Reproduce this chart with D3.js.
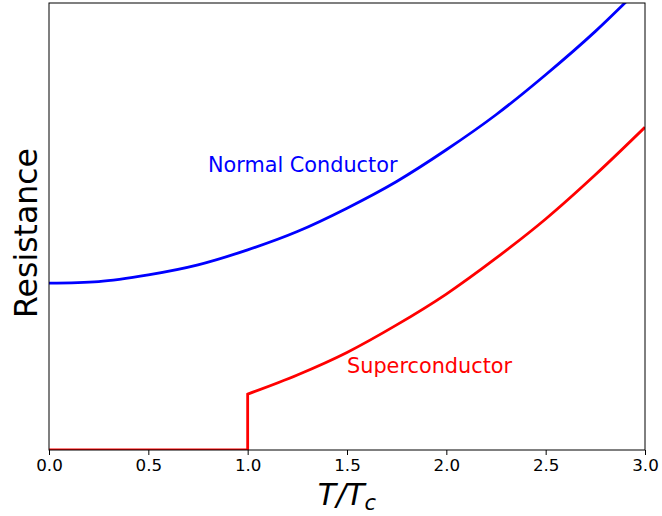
<!DOCTYPE html>
<html>
<head>
<meta charset="utf-8">
<script src="https://cdn.jsdelivr.net/npm/d3@7"></script>
<style>
  body { margin: 0; background: #fff; }
  text { font-family: "DejaVu Sans", sans-serif; }
</style>
</head>
<body>
<svg id="chart" width="662" height="516"></svg>
<script>
// values
var temps = [0, 0.25, 0.5, 0.75, 1, 1.25, 1.5, 1.75, 2, 2.25, 2.5, 2.75, 3];
var normal = [1.00, 1.01, 1.05, 1.11, 1.20, 1.31, 1.45, 1.61, 1.80, 2.01, 2.25, 2.51, 2.80];

var superBelowT = [0, 0.25, 0.5, 0.75, 1];
var superBelow = [0, 0, 0, 0, 0];
var superAboveT = [1, 1.25, 1.5, 1.75, 2, 2.25, 2.5, 2.75, 3];
var superAbove = [0.335, 0.45, 0.585, 0.75, 0.935, 1.15, 1.385, 1.65, 1.935];

var xTicks = [0, 0.5, 1, 1.5, 2, 2.5, 3];

var svg = d3.select("#chart"),
    margin = {left: 49, top: 3, right: 17, bottom: 66},
    width = 662 - margin.left - margin.right,
    height = 516 - margin.top - margin.bottom;

var x = d3.scaleLinear()
  .domain([0, 3])
  .range([margin.left, margin.left + width]);

var y = d3.scaleLinear()
  .domain([0, 2.68])
  .range([margin.top + height, margin.top]);

svg.append("clipPath")
  .attr("id", "clip")
  .append("rect")
  .attr("x", margin.left)
  .attr("y", margin.top)
  .attr("width", width)
  .attr("height", height);

var line = d3.line()
  .x(function(d){ return x(d[0]); })
  .y(function(d){ return y(d[1]); })
  .curve(d3.curveMonotoneX);

var plot = svg.append("g").attr("clip-path", "url(#clip)");

plot.append("path")
  .attr("d", line(d3.zip(temps, normal)))
  .attr("fill", "none")
  .attr("stroke", "#0000ff")
  .attr("stroke-width", 2.8);

// superconductor: flat at zero, vertical jump at Tc, then rising
var superPts = d3.zip(superBelowT, superBelow);
plot.append("path")
  .attr("d", line(superPts) + "L" + line(d3.zip(superAboveT, superAbove)).slice(1))
  .attr("fill", "none")
  .attr("stroke", "#ff0000")
  .attr("stroke-width", 2.8);

// frame
svg.append("rect")
  .attr("x", margin.left)
  .attr("y", margin.top)
  .attr("width", width)
  .attr("height", height)
  .attr("fill", "none")
  .attr("stroke", "#000")
  .attr("stroke-width", 1);

var xAxis = svg.append("g")
  .attr("transform", "translate(0," + (margin.top + height) + ")")
  .call(d3.axisBottom(x).tickValues(xTicks).tickFormat(d3.format(".1f")).tickSize(5).tickPadding(4));

xAxis.select(".domain").remove();
xAxis.selectAll("text")
  .attr("font-size", 16.7)
  .attr("fill", "#000")
  .style("font-family", "DejaVu Sans");
xAxis.selectAll("line").attr("stroke", "#000");

// labels
svg.append("text")
  .attr("x", 0)
  .attr("y", 0)
  .attr("text-anchor", "middle")
  .attr("font-size", 31.5)
  .attr("transform", "translate(37,233) rotate(-90)")
  .text("Resistance");

var xl = svg.append("text")
  .attr("x", (margin.left + margin.left + width) / 2)
  .attr("y", 505)
  .attr("text-anchor", "middle")
  .attr("font-size", 30)
  .attr("font-style", "italic");
xl.append("tspan").text("T/T");
xl.append("tspan").attr("font-size", 21).attr("dy", 5).text("c");

svg.append("text")
  .attr("x", x(0.8))
  .attr("y", 171.5)
  .attr("font-size", 20.8)
  .attr("fill", "#0000ff")
  .text("Normal Conductor");

svg.append("text")
  .attr("x", x(1.5))
  .attr("y", 373)
  .attr("font-size", 20.8)
  .attr("fill", "#ff0000")
  .text("Superconductor");
</script>
</body>
</html>
